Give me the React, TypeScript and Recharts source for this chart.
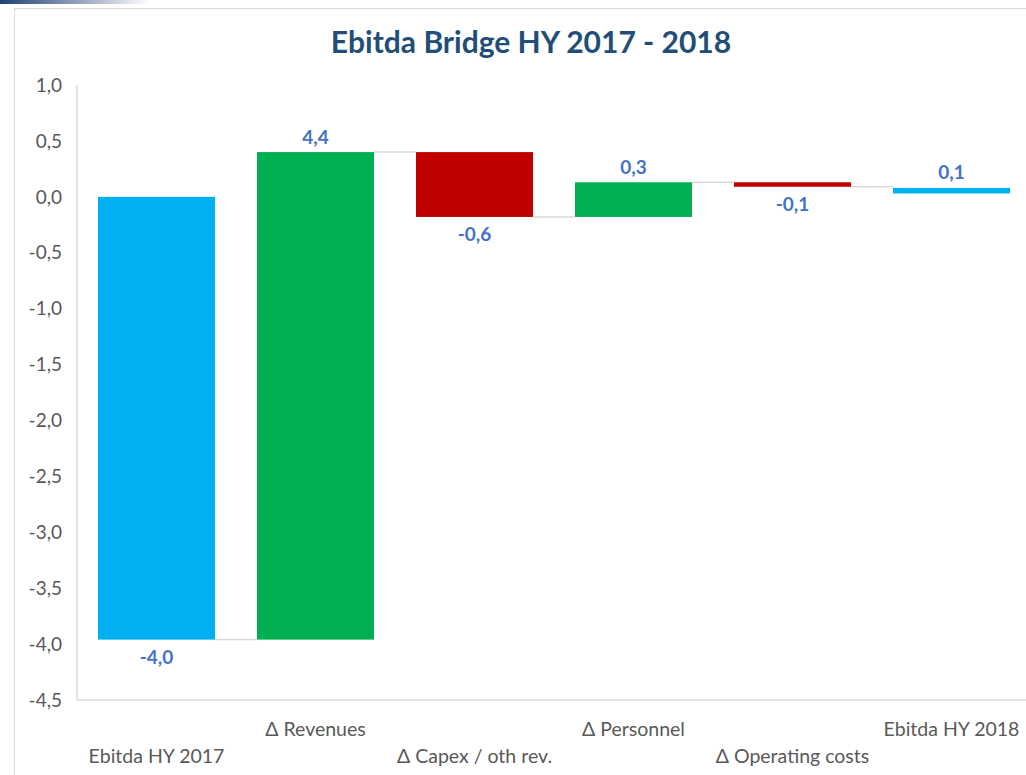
import React from "react";
import { BarChart, Bar, XAxis, YAxis, LabelList } from "recharts";

const categories = [
  "Ebitda HY 2017",
  "\u0394 Revenues",
  "\u0394 Capex / oth rev.",
  "\u0394 Personnel",
  "\u0394 Operating costs",
  "Ebitda HY 2018",
];
// start/end level of each step of the bridge (as drawn)
const fromValues = [0, -3.96, 0.4, -0.18, 0.13, 0.03];
const toValues = [-3.96, 0.4, -0.18, 0.13, 0.09, 0.08];
const labels = ["-4,0", "4,4", "-0,6", "0,3", "-0,1", "0,1"];
const colors = ["#00B0F0", "#00B050", "#C00000", "#00B050", "#C00000", "#00B0F0"];
const yTicks = [1, 0.5, 0, -0.5, -1, -1.5, -2, -2.5, -3, -3.5, -4, -4.5];

const data = categories.map((name, i) => ({
  name,
  range: [Math.min(fromValues[i], toValues[i]), Math.max(fromValues[i], toValues[i])],
  up: i === categories.length - 1 ? true : toValues[i] >= fromValues[i],
  label: labels[i],
  color: colors[i],
  last: i === categories.length - 1,
}));

const GAP = 21;
const fmt = (v: number) => v.toFixed(1).replace(".", ",");

function StepShape(props: any) {
  const { x, y, width, height, payload } = props;
  const top = Math.min(y, y + height);
  const h = Math.max(Math.abs(height), 1);
  const endY = payload.up ? top : top + h;
  return (
    <g>
      {!payload.last && (
        <line x1={x + width} x2={x + width + GAP * 2} y1={endY} y2={endY} stroke="#d9d9d9" strokeWidth={1.5} />
      )}
      <rect x={x} y={top} width={width} height={h} fill={payload.color} />
    </g>
  );
}

function StepLabel(props: any) {
  const { x, y, width, height, index } = props;
  const d = data[index];
  const top = Math.min(y, y + height);
  const bottom = Math.max(y, y + height);
  const ty = d.up ? top - 16 : bottom + 17;
  return (
    <text
      x={x + width / 2}
      y={ty}
      textAnchor="middle"
      dominantBaseline="central"
      fill="#4472C4"
      fontWeight="bold"
      fontSize={19}
      fontFamily="Lato, sans-serif"
    >
      {d.label}
    </text>
  );
}

function CatTick(props: any) {
  const { x, payload, index } = props;
  const ty = index % 2 === 1 ? 728 : 755;
  return (
    <text x={x} y={ty} textAnchor="middle" dominantBaseline="central" fill="#595959" fontSize={19.5} fontFamily="Lato, sans-serif">
      {payload.value}
    </text>
  );
}

export default function App() {
  return (
    <div style={{ position: "fixed", left: 0, top: 0, width: 1026, height: 775, overflow: "hidden", background: "#fff" }}>
      <div style={{ position: "absolute", left: 0, top: 0, width: 150, height: 4, background: "linear-gradient(90deg, #1F3F73, #1F3F7300)", borderBottomRightRadius: 40 }} />
      <div style={{ position: "absolute", left: 14, top: 8, width: 1100, height: 900, border: "1px solid #d9d9d9" }} />
      <div
        style={{
          position: "absolute",
          left: 0,
          top: 23,
          width: 1062,
          textAlign: "center",
          fontFamily: "Lato, sans-serif",
          fontWeight: "bold",
          fontSize: 30,
          color: "#1F4E79",
        }}
      >
        Ebitda Bridge HY 2017 - 2018
      </div>
      <div style={{ position: "absolute", left: 0, top: 0 }}>
        <BarChart width={1031} height={775} data={data} margin={{ top: 85, right: 0, bottom: 0, left: 0 }} barCategoryGap={GAP}>
          <XAxis dataKey="name" height={75} axisLine={{ stroke: "#d9d9d9", strokeWidth: 1.5 }} tickLine={false} tick={<CatTick />} interval={0} />
          <YAxis
            width={77}
            domain={[-4.5, 1]}
            ticks={yTicks}
            tickFormatter={fmt}
            axisLine={{ stroke: "#d9d9d9", strokeWidth: 1.5 }}
            tickLine={false}
            tickSize={0}
            tickMargin={15}
            tick={{ fill: "#595959", fontSize: 19, fontFamily: "Lato, sans-serif" }}
            interval={0}
          />
          <Bar dataKey="range" shape={<StepShape />} isAnimationActive={false}>
            <LabelList dataKey="label" content={<StepLabel />} />
          </Bar>
        </BarChart>
      </div>
    </div>
  );
}
